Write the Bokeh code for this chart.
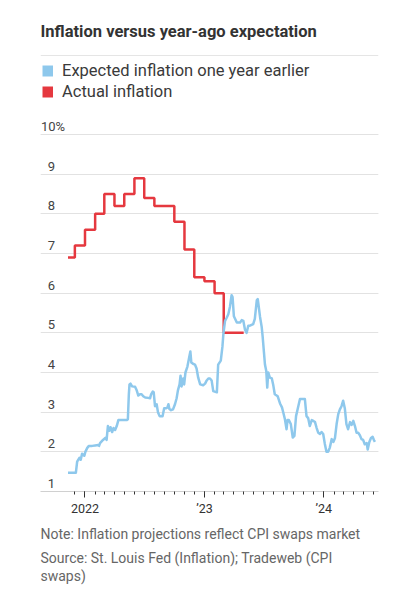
import math
import pandas as pd
from bokeh.plotting import figure
from bokeh.models import FixedTicker, Grid, Legend, LegendItem, Label, Range1d, Title
from bokeh.core.properties import value
from bokeh.embed import file_html
from bokeh.resources import INLINE

FONT = "Roboto"
BLUE = "#8ec8ec"
RED = "#e5383f"

title_text = "Inflation versus year-ago expectation"
legend_labels = ["Expected inflation one year earlier", "Actual inflation"]
note_lines = [
    "Note: Inflation projections reflect CPI swaps market",
    "Source: St. Louis Fed (Inflation); Tradeweb (CPI",
    "swaps)",
]

y_ticks = [1, 2, 3, 4, 5, 6, 7, 8, 9, 10]
y_tick_labels = ["1", "2", "3", "4", "5", "6", "7", "8", "9", "10%"]
x_major = ["2022-01-01", "2023-01-01", "2024-01-01"]
x_major_labels = ["2022", "\u201923", "\u201924"]
x_minor_start, x_minor_end = "2021-12-01", "2024-06-01"
x_view = ("2021-08-18", "2024-06-16")
y_view = (1, 13.378)

# Actual inflation (monthly, step line)
red_dates = ["2021-11-10", "2021-12-01", "2022-01-01", "2022-02-01", "2022-03-01",
             "2022-04-01", "2022-05-01", "2022-06-01", "2022-07-01", "2022-08-01",
             "2022-09-01", "2022-10-01", "2022-11-01", "2022-12-01", "2023-01-01",
             "2023-02-01", "2023-03-01", "2023-04-01"]
red_vals = [6.9, 7.2, 7.6, 8.0, 8.5, 8.2, 8.5, 8.9, 8.4, 8.2, 8.2, 7.8, 7.1, 6.4,
            6.3, 6.0, 5.0, 5.0]
red_end = "2023-05-01"

# Expected inflation one year earlier (CPI swaps)
blue_dates = [
    "2021-11-10", "2021-11-23", "2021-12-04", "2021-12-08", "2021-12-15", "2021-12-19", "2021-12-23", "2021-12-30",
    "2022-01-02", "2022-01-08", "2022-01-13", "2022-01-23", "2022-02-01", "2022-02-10", "2022-02-13", "2022-02-16", "2022-02-25",
    "2022-03-04", "2022-03-08", "2022-03-12", "2022-03-16", "2022-03-20", "2022-03-25", "2022-03-29",
    "2022-04-03", "2022-04-08", "2022-04-13", "2022-04-24", "2022-05-09", "2022-05-12", "2022-05-15", "2022-05-17", "2022-05-20", "2022-05-25",
    "2022-06-03", "2022-06-08", "2022-06-13", "2022-06-18", "2022-06-23", "2022-06-28",
    "2022-07-04", "2022-07-13", "2022-07-19", "2022-07-22", "2022-07-27", "2022-07-30",
    "2022-08-03", "2022-08-08", "2022-08-12", "2022-08-17", "2022-08-26", "2022-08-31",
    "2022-09-06", "2022-09-10", "2022-09-13", "2022-09-16", "2022-09-21", "2022-09-27",
    "2022-10-03", "2022-10-08", "2022-10-12", "2022-10-17", "2022-10-20", "2022-10-23", "2022-10-28", "2022-10-31",
    "2022-11-04", "2022-11-10", "2022-11-17", "2022-11-19", "2022-11-22", "2022-11-27",
    "2022-12-03", "2022-12-08", "2022-12-13", "2022-12-19", "2022-12-28",
    "2023-01-03", "2023-01-08", "2023-01-13", "2023-01-18", "2023-01-23", "2023-01-28",
    "2023-02-08", "2023-02-12", "2023-02-20", "2023-02-25", "2023-02-28",
    "2023-03-05", "2023-03-10", "2023-03-15", "2023-03-20", "2023-03-25", "2023-03-28",
    "2023-04-01", "2023-04-10", "2023-04-20", "2023-04-25", "2023-04-30",
    "2023-05-05", "2023-05-10", "2023-05-15", "2023-05-20", "2023-05-30",
    "2023-06-04", "2023-06-10", "2023-06-13", "2023-06-15", "2023-06-20", "2023-06-25", "2023-06-28",
    "2023-07-02", "2023-07-05", "2023-07-09", "2023-07-12", "2023-07-15", "2023-07-20", "2023-07-26", "2023-07-30",
    "2023-08-04", "2023-08-13", "2023-08-20", "2023-08-26", "2023-08-30",
    "2023-09-04", "2023-09-09", "2023-09-12", "2023-09-16", "2023-09-22", "2023-09-28",
    "2023-10-03", "2023-10-08", "2023-10-13", "2023-10-20", "2023-10-29",
    "2023-11-04", "2023-11-09", "2023-11-14", "2023-11-19", "2023-11-25", "2023-11-30",
    "2023-12-05", "2023-12-10", "2023-12-15", "2023-12-20", "2023-12-25", "2023-12-30",
    "2024-01-04", "2024-01-09", "2024-01-14", "2024-01-19", "2024-01-25", "2024-01-30",
    "2024-02-04", "2024-02-09", "2024-02-14", "2024-02-19", "2024-02-24", "2024-02-29",
    "2024-03-05", "2024-03-10", "2024-03-15", "2024-03-21", "2024-03-26", "2024-03-31",
    "2024-04-05", "2024-04-10", "2024-04-15", "2024-04-20", "2024-04-25", "2024-04-30",
    "2024-05-05", "2024-05-11", "2024-05-14", "2024-05-19", "2024-05-24", "2024-05-29",
    "2024-06-02", "2024-06-05",
]
blue_vals = [
    1.47, 1.47, 1.47, 1.75, 1.85, 1.80, 1.95, 1.90,
    2.0, 2.1, 2.15, 2.15, 2.16, 2.17, 2.15, 2.22, 2.3,
    2.35, 2.3, 2.65, 2.53, 2.62, 2.5, 2.6,
    2.55, 2.65, 2.8, 2.8, 2.8, 2.82, 3.45, 3.7, 3.72, 3.65,
    3.64, 3.55, 3.42, 3.45, 3.45, 3.4,
    3.37, 3.36, 3.35, 3.45, 3.52, 3.5,
    3.15, 3.2, 3.0, 2.9, 2.9, 3.1,
    3.1, 3.12, 3.2, 3.08, 3.05, 3.07,
    3.2, 3.35, 3.55, 3.7, 3.92, 3.65, 3.85, 3.7,
    4.0, 4.15, 4.45, 4.53, 4.25, 4.22,
    4.2, 4.1, 3.87, 3.7, 3.68,
    3.72, 3.8, 3.85, 3.85, 3.8, 3.53,
    3.5, 4.2, 4.3, 4.65, 4.98,
    5.3, 5.38, 5.47, 5.66, 5.95, 5.9,
    5.42, 5.26, 5.26, 5.32, 5.3,
    5.08, 5.0, 5.18, 5.18, 5.22,
    5.35, 5.82, 5.85, 5.72, 5.4, 5.15, 4.9,
    4.5, 4.2, 4.04, 3.62, 4.0, 3.87, 3.85, 3.7,
    3.45, 3.4, 3.22, 3.12, 2.99,
    2.82, 2.57, 2.8, 2.8, 2.7, 2.36,
    2.4, 2.9, 3.08, 3.33, 3.33,
    3.33, 2.9, 2.85, 2.65, 2.8, 2.78,
    2.75, 2.6, 2.48, 2.45, 2.5, 2.45,
    2.2, 2.0, 2.0, 2.1, 2.32, 2.25,
    2.35, 2.7, 2.95, 3.07, 3.15, 3.29,
    3.1, 2.7, 2.57, 2.75, 2.68, 2.78,
    2.65, 2.48, 2.48, 2.42, 2.32, 2.3,
    2.19, 2.22, 2.06, 2.25, 2.35, 2.38,
    2.3, 2.25,
]
assert len(blue_dates) == len(blue_vals)
assert len(red_dates) == len(red_vals)


def ms(s):
    return int(pd.Timestamp(s).value // 10**6)


p = figure(width=395, height=599, output_backend="svg", toolbar_location=None,
           x_axis_type="datetime", y_axis_location=None,
           x_range=Range1d(ms(x_view[0]), ms(x_view[1])),
           y_range=Range1d(*y_view),
           min_border_left=40, min_border_right=17, min_border_top=0, min_border_bottom=108)
p.outline_line_color = None
p.background_fill_color = "white"
p.border_fill_color = "white"
p.xgrid.visible = False
p.add_layout(Grid(dimension=1, ticker=FixedTicker(ticks=y_ticks),
                  grid_line_color="#e2e2e2", grid_line_width=1))

# x axis
xa = p.xaxis[0]
minor = [ms(d) for d in pd.date_range(x_minor_start, x_minor_end, freq="MS")]
xa.ticker = FixedTicker(ticks=[ms(d) for d in x_major], minor_ticks=minor)
xa.major_label_overrides = {ms(d): lab for d, lab in zip(x_major, x_major_labels)}
xa.axis_line_color = "#d0d0d0"
xa.axis_line_width = 1
xa.major_tick_line_color = "#333333"
xa.major_tick_out = 6
xa.major_tick_in = 0
xa.minor_tick_line_color = "#333333"
xa.minor_tick_out = 3
xa.minor_tick_in = 0
xa.major_label_text_font = FONT
xa.major_label_text_font_size = "12.5px"
xa.major_label_text_color = "#333333"
xa.major_label_standoff = 3

# data lines
p.step(x=pd.to_datetime(red_dates + [red_end]), y=red_vals + [red_vals[-1]], mode="after",
       line_color=RED, line_width=2.5)
p.line(x=pd.to_datetime(blue_dates), y=blue_vals, line_color=BLUE, line_width=2.5,
       line_join="round")

# y tick labels inside the plot, sitting just above their grid lines
x0 = p.x_range.start
p.text(x=[x0] * 9, y=y_ticks[:-1], text=y_tick_labels[:-1], text_align="right",
       text_baseline="middle", x_offset=14.5, y_offset=-8,
       text_font=value(FONT), text_font_size=value("13px"), text_color="#444444")
p.text(x=[x0], y=y_ticks[-1:], text=y_tick_labels[-1:], text_align="left",
       text_baseline="middle", x_offset=0.5, y_offset=-8,
       text_font=value(FONT), text_font_size=value("13px"), text_color="#444444")

# legend with square swatches (renderers hold one invisible NaN point)
sw_blue = p.line(x=[x0], y=[math.nan], line_color=BLUE, line_width=11, line_cap="butt")
sw_red = p.line(x=[x0], y=[math.nan], line_color=RED, line_width=11, line_cap="butt")
legend = Legend(items=[LegendItem(label=legend_labels[0], renderers=[sw_blue]),
                       LegendItem(label=legend_labels[1], renderers=[sw_red])],
                location=(2, 389.5), orientation="vertical", padding=0, margin=0, spacing=0,
                glyph_width=11, glyph_height=21, label_height=21, label_standoff=9,
                label_text_font=FONT, label_text_font_size="16.5px",
                label_text_color="#3a3a3a", border_line_color=None,
                background_fill_alpha=0)
p.add_layout(legend)

# title
p.add_layout(Label(x=0, y=460.5, x_units="screen", y_units="screen", text=title_text,
                   text_font=FONT, text_font_style="bold", text_font_size="16.5px",
                   text_color="#333333", text_baseline="middle", text_align="left"))

# notes, below the x axis
for i, line in enumerate(note_lines):
    p.add_layout(Title(text=line, align="left", text_font=FONT, text_font_size="14px",
                       text_font_style="normal", text_color="#666666",
                       standoff=11 if i == 0 else -0.5, offset=0), "below")

open("out.html", "w").write(file_html(p, INLINE))
